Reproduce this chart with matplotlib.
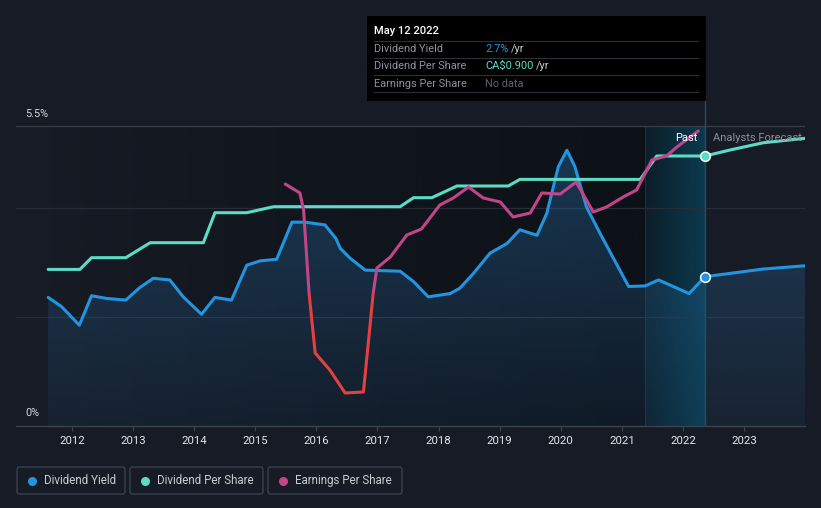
import numpy as np
import matplotlib
matplotlib.use("Agg")
import matplotlib.pyplot as plt
from matplotlib.patches import Rectangle, FancyBboxPatch
from matplotlib.colors import to_rgb

# ---------------- data ----------------
dy_years = [2011.61, 2011.83, 2012.12, 2012.32, 2012.57, 2012.88, 2013.11, 2013.33, 2013.60,
            2013.82, 2014.12, 2014.34, 2014.61, 2014.86, 2015.08, 2015.35, 2015.60, 2015.81,
            2016.14, 2016.32, 2016.39, 2016.55, 2016.80, 2017.37, 2017.59, 2017.83, 2018.19,
            2018.35, 2018.57, 2018.84, 2019.12, 2019.33, 2019.61, 2019.77, 2019.96, 2020.10,
            2020.23, 2020.42, 2020.64, 2020.86, 2021.11, 2021.38, 2021.60, 2021.84, 2022.10,
            2022.36]
dy_vals = [2.36, 2.19, 1.85, 2.39, 2.34, 2.31, 2.54, 2.71, 2.68,
           2.37, 2.05, 2.36, 2.31, 2.95, 3.03, 3.06, 3.74, 3.74,
           3.69, 3.44, 3.26, 3.08, 2.86, 2.84, 2.65, 2.37, 2.43,
           2.53, 2.80, 3.17, 3.35, 3.60, 3.50, 3.90, 4.76, 5.06,
           4.76, 4.02, 3.54, 3.08, 2.56, 2.57, 2.68, 2.56, 2.43,
           2.74]
dy_fc_years = [2022.36, 2022.77, 2023.31, 2024.00]
dy_fc_vals = [2.74, 2.80, 2.88, 2.94]

dps_years = [2011.61, 2012.13, 2012.32, 2012.88, 2013.28, 2014.15, 2014.34, 2014.86,
             2015.30, 2017.37, 2017.59, 2017.89, 2018.30, 2019.14, 2019.33, 2021.30,
             2021.57, 2022.36]
dps_vals = [0.522, 0.522, 0.561, 0.561, 0.611, 0.611, 0.711, 0.711,
            0.731, 0.731, 0.761, 0.761, 0.800, 0.800, 0.822, 0.822,
            0.900, 0.900]
dps_fc_years = [2022.36, 2022.77, 2023.31, 2024.00]
dps_fc_vals = [0.900, 0.920, 0.944, 0.959]

eps_years = [2015.49, 2015.73, 2015.79, 2015.88, 2015.98, 2016.22, 2016.47, 2016.77,
             2016.93, 2016.99, 2017.21, 2017.48, 2017.72, 2018.02, 2018.24, 2018.49,
             2018.73, 2019.01, 2019.22, 2019.50, 2019.69, 2019.99, 2020.25, 2020.42,
             2020.53, 2020.75, 2021.02, 2021.24, 2021.35, 2021.49, 2021.73, 2021.90,
             2022.25]
eps_vals = [1.09, 1.00, 0.83, 0.00, -0.60, -0.77, -1.00, -0.99,
            0.00, 0.25, 0.36, 0.58, 0.64, 0.88, 0.95, 1.06,
            0.95, 0.91, 0.76, 0.80, 1.00, 0.99, 1.11, 0.93,
            0.81, 0.86, 0.96, 1.03, 1.16, 1.33, 1.37, 1.46,
            1.62]

x_ticks = list(range(2012, 2024))
x_tick_labels = [str(y) for y in x_ticks]
y_grid = [2, 4, 5.5]
y_labels = {"5.5%": 5.5, "0%": 0}
today = 2022.36
last_year_start = 2021.38

legend_labels = ["Dividend Yield", "Dividend Per Share", "Earnings Per Share"]

# ---------------- style ----------------
W, H = 821, 508
BG = "#161b25"
PAST_DARK = "#0c1016"
BLUE = "#2394df"
TEAL = "#5cdcc4"
MAG = "#c2458a"
RED = "#e5403f"
ROBOTO = ["Roboto", "DejaVu Sans"]

fig = plt.figure(figsize=(W / 100, H / 100), dpi=100)
fig.patch.set_facecolor(BG)

# main axes: pixel box x 16..805, y 100..426
ax = fig.add_axes([16 / W, 1 - 426 / H, (805 - 16) / W, (426 - 100) / H])
XMIN, XMAX = 2011.0835, 2023.9967
YMAX = 326 / 54.5
ax.patch.set_visible(False)

# past region: darkening gradient toward today
pd_ = np.zeros((2, 256, 4))
pd_[..., :3] = to_rgb(PAST_DARK)
pd_[..., 3] = np.linspace(0.0, 0.85, 256)[None, :] ** 0.8
ax.imshow(pd_, extent=[min(dy_years), last_year_start, 0, 5.5], aspect="auto",
          origin="upper", zorder=0.2, interpolation="bilinear")
ax.add_patch(Rectangle((last_year_start, 0), today - last_year_start, 5.5,
                       facecolor=PAST_DARK, alpha=0.85, edgecolor="none", zorder=0.2))
# last year highlight gradient
hl = np.zeros((2, 256, 4))
hl[..., :3] = to_rgb("#0a4b64")
hl[..., 3] = np.linspace(0.22, 0.72, 256)[None, :]
ax.imshow(hl, extent=[last_year_start, today, 0, 5.5], aspect="auto",
          origin="upper", zorder=0.4, interpolation="bilinear")
ax.axvline(last_year_start, ymax=5.5 / YMAX, color="#163340", lw=0.8, zorder=0.45)

# grid lines
for g in y_grid:
    ax.axhline(g, color="#383e48" if g == 5.5 else "#272d37", lw=0.9, zorder=0.5)

# dividend yield fill gradient
all_years = dy_years + dy_fc_years[1:]
all_vals = dy_vals + dy_fc_vals[1:]
poly = ax.fill_between(all_years, all_vals, 0, facecolor="none", edgecolor="none")
gr = np.zeros((256, 2, 4))
gr[..., :3] = to_rgb("#2a6fa8")
gr[..., 3] = np.linspace(0.40, 0.10, 256)[:, None]
im = ax.imshow(gr, extent=[min(all_years), max(all_years), 0, max(all_vals)],
               aspect="auto", origin="upper", zorder=0.6, interpolation="bilinear")
im.set_clip_path(poly.get_paths()[0], ax.transData)

# today vertical line
ax.axvline(today, color="#24505f", lw=1.0, zorder=0.7)

# dividend yield line
ax.plot(dy_years, dy_vals, color=BLUE, lw=2.2, zorder=3, solid_capstyle="round",
        solid_joinstyle="round")
ax.plot(dy_fc_years, dy_fc_vals, color=BLUE, lw=2.2, zorder=3, solid_capstyle="round")
ax.plot([today], [dy_vals[-1]], "o", color=BLUE, ms=7, mec="white", mew=1.1, zorder=5)

ax.set_xlim(XMIN, XMAX)
ax.set_ylim(0, YMAX)
ax.set_xticks(x_ticks)
ax.set_xticklabels(x_tick_labels, fontsize=8.2, color="#e4e6ea", family=ROBOTO)
ax.set_yticks([])
ax.tick_params(axis="x", length=3.5, width=0.8, color="#3d434d", pad=4)
for s in ["top", "left", "right"]:
    ax.spines[s].set_visible(False)
ax.spines["bottom"].set_color("#3d434d")
ax.spines["bottom"].set_linewidth(1.0)

# dividend per share (twin scale)
ax2 = ax.twinx()
ax2.set_ylim(0, 326 / 300)
ax2.axis("off")
ax2.plot(dps_years, dps_vals, color=TEAL, lw=2.2, solid_capstyle="round",
         solid_joinstyle="round", zorder=2)
ax2.plot(dps_fc_years, dps_fc_vals, color=TEAL, lw=2.2, solid_capstyle="round", zorder=2)
ax2.plot([today], [dps_vals[-1]], "o", color=TEAL, ms=7, mec="white", mew=1.1, zorder=5)
ax2.set_xlim(XMIN, XMAX)

# earnings per share (twin scale)
ax3 = ax.twinx()
ax3.set_ylim(-1.33, 1.93)
ax3.axis("off")
ax3.set_xlim(XMIN, XMAX)
pos_clip = Rectangle((XMIN, 0), XMAX - XMIN, 10, transform=ax3.transData)
neg_clip = Rectangle((XMIN, -10), XMAX - XMIN, 10, transform=ax3.transData)
l1, = ax3.plot(eps_years, eps_vals, color=MAG, lw=2.2, solid_capstyle="round",
               solid_joinstyle="round")
l1.set_clip_path(pos_clip)
l2, = ax3.plot(eps_years, eps_vals, color=RED, lw=2.2, solid_capstyle="round",
               solid_joinstyle="round")
l2.set_clip_path(neg_clip)

# ---------------- overlay (pixel coords) ----------------
ov = fig.add_axes([0, 0, 1, 1], zorder=10)
ov.set_xlim(0, W)
ov.set_ylim(H, 0)
ov.axis("off")

# y labels
for lab, v in y_labels.items():
    py = 114 if v > 0 else 413
    ov.text(25, py, lab, color="#d6d9de", fontsize=7.8, family=ROBOTO, va="center")

# Past / forecast labels
ov.text(697, 138, "Past", color="white", fontsize=8, family=ROBOTO, ha="right", va="center")
tf = ov.text(713, 138, "Analysts Forecast", color="#8b9099", fontsize=8, family=ROBOTO,
             va="center")
tf.set_clip_box(ax.bbox)
tf.set_clip_on(True)

# tooltip
ov.add_patch(Rectangle((367, 16), 339, 85, facecolor="#000000", edgecolor="none"))
ov.text(374, 31, "May 12 2022", color="white", fontsize=8, family=ROBOTO,
        fontweight="medium", va="center")
for sy in [41, 58, 75, 92]:
    ov.plot([374, 698], [sy, sy], color="#2c2f35", lw=0.8)
rows = [("Dividend Yield", 49), ("Dividend Per Share", 66), ("Earnings Per Share", 84)]
FS = 7.9
for lab, ry in rows:
    ov.text(374, ry, lab, color="#8e939b", fontsize=FS, family=ROBOTO, va="center")
ov.text(485, 49, "2.7%", color=BLUE, fontsize=FS, family=ROBOTO, va="center")
ov.text(511, 49, "/yr", color="#c8cbd0", fontsize=FS, family=ROBOTO, va="center")
ov.text(485, 66, "CA\\$0.900", color=TEAL, fontsize=FS, family=ROBOTO, va="center")
ov.text(535.5, 66, "/yr", color="#c8cbd0", fontsize=FS, family=ROBOTO, va="center")
ov.text(485, 84, "No data", color="#5d636c", fontsize=FS, family=ROBOTO, va="center")

# legend
boxes = [(17, 108), (130, 133), (268, 134)]
colors = [BLUE, TEAL, MAG]
for (bx, bw), lab, c in zip(boxes, legend_labels, colors):
    ov.add_patch(FancyBboxPatch((bx, 467), bw, 27,
                                boxstyle="round,pad=0,rounding_size=2.5",
                                facecolor="none", edgecolor="#3b414c", lw=1.0))
    ov.plot([bx + 14.5], [480.5], "o", color=c, ms=6.5, mew=0)
    ov.text(bx + 27, 480.5, lab, color="#c9ccd1", fontsize=8.3, family=ROBOTO, va="center")

fig.savefig("out.png", dpi=100, facecolor=BG)
